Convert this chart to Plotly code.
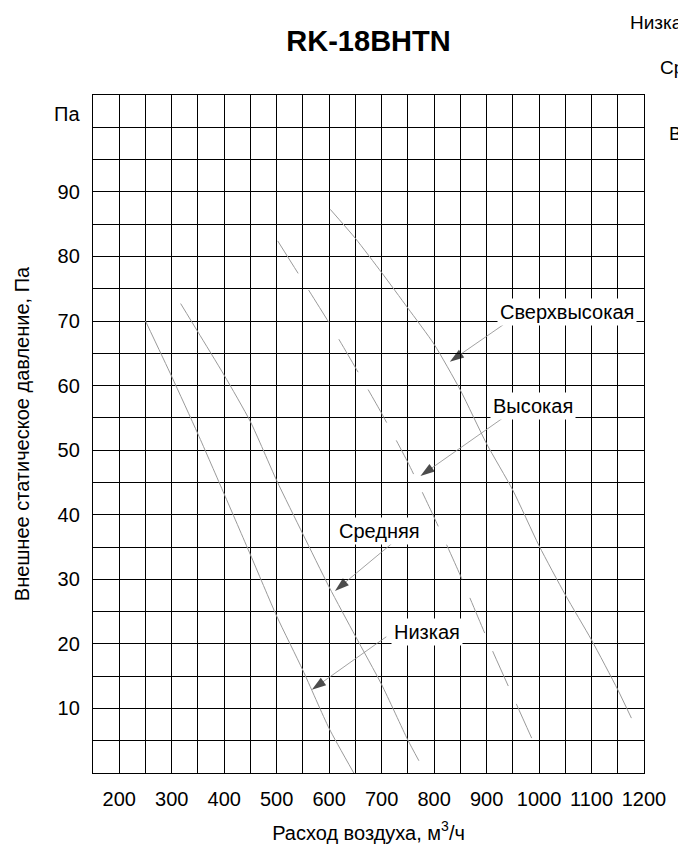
import plotly.graph_objects as go

# ---- data ----
x_ticks = [200, 300, 400, 500, 600, 700, 800, 900, 1000, 1100, 1200]
y_ticks = [10, 20, 30, 40, 50, 60, 70, 80, 90]

low_x = [250, 300, 350, 400, 450, 500, 550, 600, 647]
low_y = [70, 61.4, 52.5, 43.2, 33.8, 24.3, 15.9, 6.9, 0]

med_x = [317, 350, 400, 450, 500, 550, 600, 650, 700, 750, 771]
med_y = [72.7, 68.3, 61.6, 54.4, 45.3, 37.0, 28.8, 21.2, 13.7, 5.1, 1.9]

high_x = [502, 550, 600, 650, 700, 750, 800, 850, 900, 950, 986]
high_y = [82.4, 76.2, 69.7, 62.8, 55.7, 48.1, 39.6, 30.6, 21.0, 11.9, 5.4]

super_x = [602, 650, 700, 750, 800, 850, 900, 950, 1000, 1050, 1100, 1150, 1176]
super_y = [87.3, 82.8, 77.5, 72.0, 66.4, 59.3, 51.0, 43.8, 35.2, 27.6, 20.6, 12.9, 8.5]

label_names = ["Сверхвысокая", "Высокая", "Средняя", "Низкая"]
label_x = [1053, 988, 696, 786]
label_y = [71.4, 56.8, 37.5, 21.8]
arrow_tail_x = [935, 935, 719, 709]
arrow_tail_y = [69.6, 55.2, 35.5, 21.1]
arrow_head_x = [830, 774, 611, 567]
arrow_head_y = [63.7, 46.0, 28.2, 12.9]

legend_names = ["Низкая", "Средняя", "Высокая"]

FONT = "Liberation Sans, Arial, sans-serif"
CURVE_COLOR = "#9a9a9a"

fig = go.Figure()

fig.add_trace(go.Scatter(x=low_x, y=low_y, mode="lines", line=dict(color=CURVE_COLOR, width=1, shape="spline", smoothing=0.6)))
fig.add_trace(go.Scatter(x=med_x, y=med_y, mode="lines", line=dict(color=CURVE_COLOR, width=1, shape="spline", smoothing=0.6)))
fig.add_trace(go.Scatter(x=high_x, y=high_y, mode="lines", line=dict(color=CURVE_COLOR, width=1, shape="spline", smoothing=0.6, dash="38px,20px")))
fig.add_trace(go.Scatter(x=super_x, y=super_y, mode="lines", line=dict(color=CURVE_COLOR, width=1, shape="spline", smoothing=0.6)))

for tx, ty, hx, hy in zip(arrow_tail_x, arrow_tail_y, arrow_head_x, arrow_head_y):
    fig.add_trace(go.Scatter(
        x=[tx, hx], y=[ty, hy], mode="lines+markers",
        line=dict(color="#8a8a8a", width=0.8),
        marker=dict(symbol="arrow", angleref="previous", size=[0, 15], color="black",
                    line=dict(width=0)),
    ))

annotations = []
for name, lx, ly in zip(label_names, label_x, label_y):
    annotations.append(dict(x=lx, y=ly, xref="x", yref="y", text=name, showarrow=False,
                            font=dict(family=FONT, size=20, color="black"),
                            bgcolor="white", borderpad=2))

annotations.append(dict(x=0, y=102, xref="paper", yref="y", text="Па", showarrow=False,
                        xanchor="right", xshift=-11, font=dict(family=FONT, size=20, color="black")))

legend_px = [(628, 22), (658, 67), (667, 133)]
for name, (px, py) in zip(legend_names, legend_px):
    annotations.append(dict(x=(px - 93) / 551, y=(773 - py) / 678, xref="paper", yref="paper",
                            text=name, showarrow=False, xanchor="left", yanchor="middle",
                            font=dict(family=FONT, size=19, color="black")))

fig.update_layout(
    width=678, height=845,
    margin=dict(l=93, r=34, t=95, b=72),
    paper_bgcolor="white", plot_bgcolor="white",
    showlegend=False, hovermode=False,
    title=dict(text="<b>RK-18BHTN</b>", x=0.5, xref="paper", y=1 - 41 / 845, yref="container",
               xanchor="center", yanchor="middle", font=dict(family=FONT, size=29, color="black")),
    annotations=annotations,
    xaxis=dict(
        range=[150, 1200], tickmode="array", tickvals=x_ticks,
        showgrid=True, gridcolor="black", gridwidth=1.3,
        minor=dict(tickmode="linear", tick0=0, dtick=50, showgrid=True, gridcolor="black", gridwidth=1.3),
        showline=True, mirror=True, linecolor="black", linewidth=1.3,
        zeroline=False, ticks="", ticklabelstandoff=8, automargin=False,
        tickfont=dict(family=FONT, size=20, color="black"),
        title=dict(text="Расход воздуха, м<sup>3</sup>/ч", standoff=16,
                   font=dict(family=FONT, size=20, color="black")),
    ),
    yaxis=dict(
        range=[0, 105], tickmode="array", tickvals=y_ticks,
        showgrid=True, gridcolor="black", gridwidth=1.3,
        minor=dict(tickmode="linear", tick0=0, dtick=5, showgrid=True, gridcolor="black", gridwidth=1.3),
        showline=True, mirror=True, linecolor="black", linewidth=1.3,
        zeroline=False, ticks="", ticklabelstandoff=8, automargin=False,
        tickfont=dict(family=FONT, size=20, color="black"),
        title=dict(text="Внешнее статическое давление, Па", standoff=22,
                   font=dict(family=FONT, size=20, color="black")),
    ),
)

fig.write_html("out.html", config={"displayModeBar": False},
               post_script="document.body.style.margin='0';document.body.style.padding='0';")
